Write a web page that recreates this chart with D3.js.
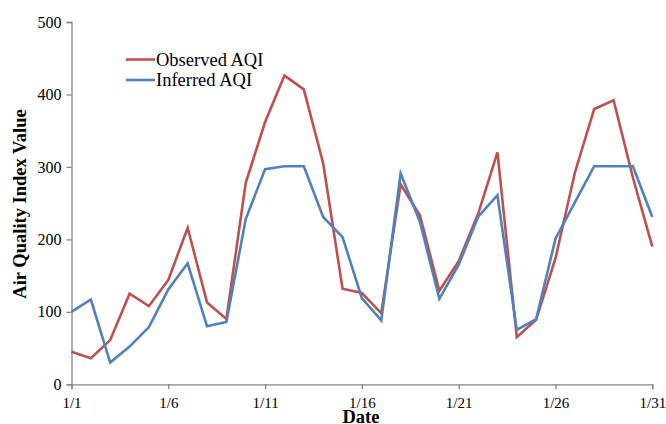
<!DOCTYPE html>
<html>
<head>
<meta charset="utf-8">
<script src="https://cdn.jsdelivr.net/npm/d3@7"></script>
<style>
  html, body { margin: 0; padding: 0; background: #fff; }
  svg { display: block; }
  text { font-family: "Liberation Serif", "Times New Roman", serif; fill: #000; }
</style>
</head>
<body>
<svg id="chart" width="666" height="424"></svg>
<script>
const days = d3.range(1, 32);
const observed = [45, 36, 61, 125, 108, 144, 216, 113, 90, 278, 362, 426, 407, 305, 132, 126, 98, 276, 233, 129, 170, 235, 320, 65, 89, 174, 292, 380, 392, 285, 190];
const inferred = [100, 117, 30, 52, 79, 131, 167, 80, 86, 228, 297, 301, 301, 231, 203, 119, 88, 291, 224, 118, 165, 231, 261, 75, 90, 201, 251, 301, 301, 301, 231];
const xTickDays = [1, 6, 11, 16, 21, 26, 31];
const xTickLabels = ["1/1", "1/6", "1/11", "1/16", "1/21", "1/26", "1/31"];
const yTicks = [0, 100, 200, 300, 400, 500];
const seriesNames = ["Observed AQI", "Inferred AQI"];
const colors = ["#C0504D", "#4F81BD"];

const svg = d3.select("#chart");
const mLeft = 71.5, mRight = 652.3, mTop = 22, mBottom = 384.3;
const x = d3.scaleLinear().domain([1, 31]).range([mLeft, mRight]);
const y = d3.scaleLinear().domain([0, 500]).range([mBottom, mTop]);
const axisColor = "#868686";

// Y axis
const yAxis = d3.axisLeft(y).tickValues(yTicks).tickSize(5).tickPadding(5).tickFormat(d3.format("d"));
const gy = svg.append("g").attr("transform", `translate(${mLeft},0)`).call(yAxis);
gy.select(".domain").attr("stroke", axisColor).attr("stroke-width", 1.3);
gy.selectAll(".tick line").attr("stroke", axisColor).attr("stroke-width", 1.3);
gy.selectAll(".tick text").attr("font-family", "Liberation Serif").attr("font-size", 16).attr("fill", "#000");

// X axis
const xAxis = d3.axisBottom(x).tickValues(xTickDays).tickSize(5).tickPadding(8)
  .tickFormat((d, i) => xTickLabels[i]);
const gx = svg.append("g").attr("transform", `translate(0,${mBottom})`).call(xAxis);
gx.select(".domain").attr("stroke", axisColor).attr("stroke-width", 1.3);
gx.selectAll(".tick line").attr("stroke", axisColor).attr("stroke-width", 1.3);
gx.selectAll(".tick text").attr("font-family", "Liberation Serif").attr("font-size", 15).attr("fill", "#000");

// Lines
const line = d3.line().x((d, i) => x(days[i])).y(d => y(d));
[observed, inferred].forEach((s, k) => {
  svg.append("path").datum(s).attr("d", line)
    .attr("fill", "none").attr("stroke", colors[k]).attr("stroke-width", 2.6)
    .attr("stroke-linejoin", "miter");
});

// Legend
const lg = svg.append("g");
seriesNames.forEach((n, k) => {
  const ly = 59.5 + k * 20.5;
  lg.append("line").attr("x1", 126).attr("x2", 155).attr("y1", ly).attr("y2", ly)
    .attr("stroke", colors[k]).attr("stroke-width", 2.6);
  lg.append("text").attr("x", 156).attr("y", ly + 6).attr("font-size", 18.5).text(n);
});

// Axis titles
svg.append("text").attr("transform", "translate(26,204) rotate(-90)")
  .attr("text-anchor", "middle").attr("font-weight", "bold").attr("font-size", 18.5)
  .text("Air Quality Index Value");
svg.append("text").attr("x", 361).attr("y", 423).attr("text-anchor", "middle")
  .attr("font-weight", "bold").attr("font-size", 18.5).text("Date");
</script>
</body>
</html>
